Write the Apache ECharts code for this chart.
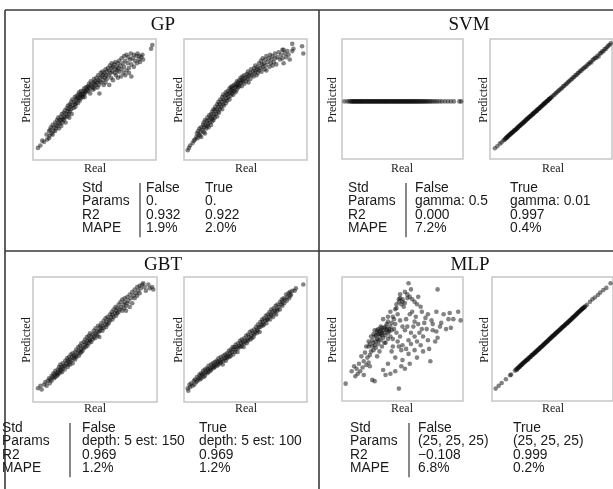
<!DOCTYPE html>
<html>
<head>
<meta charset="utf-8">
<script src="https://cdn.jsdelivr.net/npm/echarts@6/dist/echarts.min.js"></script>
<style>
  html, body { margin: 0; padding: 0; background: #fff; }
  #chart { width: 613px; height: 489px; }
</style>
</head>
<body>
<div id="chart"></div>
<script>
// Real vs. predicted values (both scaled to 0-100) for each model, without and with standardisation
const gpFalse = [[4,10],[6,12],[7.5,16],[9,15],[11,21],[11.5,17],[13,24],[13.5,20],[13,18],[14.5,27],[15,22],[14,25],[16,29],[16.5,24],[16,21],[17,27],[18,31],[18.5,26],[18,24],[19,29],[19.5,33],[20,28],[20.5,35],[21,31],[21,26],[21.5,33],[22,30],[22.5,36],[23,33],[23,28],[23.5,38],[24,34],[24,31],[25,39],[25,33],[25.5,36],[26,41],[26,35],[26.5,31],[27,38],[27.5,43],[28,36],[28,40],[28.5,45],[29,38],[29,42],[29.5,35],[30,46],[30,40],[30.5,44],[31,48],[31,42],[31.5,38],[32,45],[32,50],[33,43],[33.5,48],[34,52],[34,46],[34.5,44],[35,50],[35,47],[35.5,53],[36,51],[36.5,47],[37,54],[37,50],[37.5,56],[38,52],[38,49],[38.5,54],[39,51],[39,57],[39.5,53],[40,55],[40.5,52],[41,57],[41,54],[41.5,59],[42,55],[42,52],[42.5,57],[43,60],[43,56],[44,58],[44.5,61],[45,57],[45,60],[45.5,63],[46,59],[46.5,55],[47,62],[47,65],[48,61],[48.5,58],[49,64],[49,60],[49.5,67],[50,63],[50,59],[50.5,65],[51,62],[51.5,68],[52,64],[52.5,60],[53,66],[53,70],[53.5,62],[54,65],[54,55],[54.5,68],[55,72],[55.5,64],[56,69],[56.5,73],[57,66],[57,70],[57.5,62],[58,72],[58.5,68],[59,75],[59,64],[59.5,70],[60,73],[60,67],[61,76],[61.5,70],[62,74],[62,62],[62.5,78],[63,72],[63.5,68],[64,76],[64,80],[64.5,73],[65,66],[65,77],[66,79],[66.5,72],[67,75],[67,81],[67.5,70],[68,77],[68.5,74],[69,80],[69,68],[69.5,76],[70,82],[70,73],[71,78],[71.5,69],[72,84],[72,75],[73,80],[73.5,72],[74,86],[74,77],[75,70],[75,82],[76,87],[76,74],[77,80],[77.5,85],[78,76],[78,72],[79,83],[79.5,88],[80,79],[80,69],[81,84],[82,87],[82,77],[83,82],[84,86],[84.5,80],[85,88],[86,83],[86.5,86],[87,81],[88,85],[89,87],[89.5,83],[96,92],[97,95]];
const gpTrue = [[3,8],[4,10],[5,12],[7,14],[8,16],[9,17],[10,19],[10.5,22],[11,18],[11.5,24],[12,21],[12.5,26],[13,20],[13.5,23],[14,27],[14,19],[15,25],[15.5,29],[16,23],[16,31],[16.5,27],[17,33],[17,22],[17.5,29],[18,26],[18.5,32],[19,28],[19,35],[19.5,30],[20,33],[20,27],[20.5,37],[21,31],[21.5,35],[22,38],[22,29],[22.5,34],[23,40],[23,32],[23.5,36],[24,42],[24,33],[24.5,38],[25,41],[25,35],[25.5,44],[26,38],[26.5,42],[27,46],[27,36],[27.5,40],[28,44],[28,48],[28.5,39],[29,46],[29,42],[29.5,50],[30,44],[30.5,48],[31,52],[31,42],[31.5,46],[32,50],[32,54],[32.5,45],[33,49],[33.5,53],[34,47],[34,56],[34.5,51],[35,54],[35,49],[35.5,57],[36,52],[36.5,55],[37,59],[37,50],[37.5,56],[38,60],[38,53],[38.5,58],[39,55],[39,61],[39.5,57],[40,59],[40,54],[40.5,62],[41,57],[41.5,60],[42,63],[42,56],[42.5,61],[43,65],[43,58],[43.5,62],[44,64],[44,60],[45,66],[45,61],[45.5,63],[46,68],[46.5,64],[47,66],[47,61],[47.5,69],[48,65],[48.5,67],[49,70],[49,63],[50,68],[50.5,65],[51,71],[51.5,67],[52,69],[52,73],[52.5,64],[53,70],[54,72],[54,67],[54.5,75],[55,70],[56,73],[56.5,69],[57,76],[57.5,72],[58,74],[58,78],[59,70],[59.5,75],[60,77],[60,72],[61,80],[61,74],[62,76],[62.5,82],[63,73],[63.5,79],[64,84],[64,77],[65,80],[65.5,75],[66,83],[66.5,78],[67,86],[67,74],[68,81],[69,84],[69.5,77],[70,87],[70.5,80],[71,83],[72,78],[72,86],[73,81],[74,88],[74,84],[75,79],[76,85],[77,89],[78,83],[79,87],[80,91],[80,84],[81,80],[82,88],[83,85],[84,90],[85,87],[86,83],[81,91],[88,96],[88,90],[89,92],[96,94],[97,88]];
const svmFalse = [[2,48],[4.5,48],[6,48],[7.2,48],[8,48],[8.7,48],[9.5,48],[10.1,48],[10.8,48],[11.5,48],[12.3,48],[13,48],[13.6,48],[14.4,48],[15.1,48],[15.9,48],[16.5,48],[17.2,48],[18,48],[18.8,48],[19.4,48],[20.3,48],[21,48],[21.6,48],[22.5,48],[23.1,48],[23.9,48],[24.6,48],[25.3,48],[26.1,48],[26.8,48],[27.4,48],[28.3,48],[29,48],[29.7,48],[30.5,48],[31.2,48],[31.8,48],[32.7,48],[33.4,48],[34.1,48],[34.9,48],[35.5,48],[36.3,48],[37,48],[37.8,48],[38.4,48],[39.2,48],[40,48],[40.7,48],[41.5,48],[42.1,48],[43,48],[43.6,48],[44.4,48],[45.2,48],[45.9,48],[46.6,48],[47.4,48],[48.1,48],[48.9,48],[49.5,48],[50.4,48],[51.1,48],[51.8,48],[52.6,48],[53.3,48],[54,48],[54.8,48],[55.5,48],[56.2,48],[57,48],[57.7,48],[58.5,48],[59.2,48],[60,48],[60.8,48],[61.5,48],[62.4,48],[63.1,48],[64,48],[64.9,48],[65.7,48],[66.6,48],[67.5,48],[68.5,48],[69.4,48],[70.5,48],[71.6,48],[72.8,48],[74,48],[75.5,48],[77,48],[78.6,48],[80.5,48],[82.5,48],[85,48],[87.5,48],[90,48],[92.5,48],[97,48],[98.5,48]];
const svmTrue = [[4,9],[6,10.6],[8,12.8],[9.5,13.7],[11,15.6],[12,16],[12.6,16.9],[13,17.5],[13.7,17.6],[14,18.5],[14.6,18.6],[15,19.3],[15.5,19.5],[16,20.3],[16.6,20.4],[17,21.2],[17.5,21.2],[18,22.1],[18.5,22.2],[19,22.5],[19.5,23.3],[20,23.9],[20.5,23.9],[21,24.2],[21.5,25.2],[22,25.3],[22.5,26.2],[23,26.1],[23.5,27.1],[24,27.5],[24.5,27.6],[25,28.5],[25.5,28.5],[26,29.3],[26.5,29.6],[27,29.8],[27.5,30.7],[28,31.1],[28.5,31.2],[29,32.2],[29.5,32.1],[30,33],[30.5,33.5],[31,33.5],[31.5,34.4],[32,34.9],[32.5,34.8],[33,35.8],[33.5,36.1],[34,36.2],[34.5,37],[35,37.6],[35.5,37.6],[36,38.5],[36.5,38.9],[37,39],[37.5,39.8],[38,40.3],[38.5,40.3],[39,41.2],[39.5,41.6],[40,41.7],[40.5,42.5],[41,43.1],[41.5,43],[42,44],[42.5,44.4],[43,44.5],[43.5,45.3],[44,45.9],[44.5,45.8],[45,46.8],[45.5,47.1],[46,47.2],[46.5,48.1],[47,48.6],[47.5,48.5],[48,49.5],[48.5,49.9],[49,50],[49.5,50.8],[50,51.3],[51,51.9],[52,53.1],[53,53.8],[54,55],[55,55.6],[56,56.9],[57,57.4],[58,58.6],[59,59.2],[60,60.5],[61,61],[62,62.3],[63,62.8],[64,64.2],[65,64.7],[66,66],[67,66.5],[68,67.9],[69,68.3],[70,69.7],[71,70.1],[72,71.6],[73,72],[74,73.4],[75,73.7],[76,75.2],[77,75.6],[78,76.9],[79,77.1],[80,78.8],[81,79.2],[82,80.6],[83,80.4],[84,82.5],[85,83],[86,84.3],[87,84.2],[88,86.1],[89,85.4],[90,87.9],[91,88.2],[92,89.7],[93,89.8],[94,91.6],[95,91.9],[96,93.3],[97,94.3],[98,95.2],[99,96.4]];
const gbtFalse = [[4,11],[6,13],[7,10],[9,14],[10,16],[11,13],[12,17],[13,19],[13.5,15],[14,18],[15,21],[15,17],[16,20],[16.5,23],[17,19],[17.5,22],[18,25],[18,20],[19,23],[19.5,21],[20,26],[20,22],[20.5,24],[21,28],[21.5,23],[22,26],[22,30],[22.5,25],[23,28],[23.5,24],[24,31],[24,27],[25,29],[25.5,26],[26,33],[26,29],[27,31],[27.5,35],[28,28],[28,33],[28.5,30],[29,36],[29,32],[30,34],[30,30],[30.5,38],[31,33],[31.5,36],[32,31],[32,39],[33,35],[33,37],[34,40],[34,34],[34.5,37],[35,42],[35,36],[36,39],[36.5,44],[37,37],[37,41],[38,45],[38,39],[38.5,42],[39,47],[39,40],[40,44],[40,41],[41,48],[41,43],[42,46],[42,50],[42.5,44],[43,47],[43.5,52],[44,45],[44,49],[45,53],[45,47],[45.5,50],[46,55],[46,49],[47,52],[47,48],[48,54],[48,50],[49,57],[49,52],[50,55],[50,51],[50.5,59],[51,54],[52,57],[52,53],[52.5,61],[53,56],[53.5,52],[54,60],[54,57],[55,59],[55,63],[56,57],[56,61],[57,65],[57,59],[58,62],[58.5,67],[59,60],[59,64],[60,68],[60,62],[61,66],[61,63],[62,70],[62,65],[63,68],[63.5,72],[64,66],[64,70],[65,74],[65,68],[66,71],[66.5,76],[67,69],[67,73],[68,75],[68,71],[69,78],[69,72],[70,74],[70.5,80],[71,76],[72,82],[72,73],[73,78],[73.5,75],[74,83],[74,80],[75,73],[75,77],[76,84],[76,79],[77,81],[78,86],[78,76],[79,83],[80,88],[80,79],[81,85],[82,90],[82,83],[83,87],[84,92],[84,85],[85,89],[86,93],[86,87],[87,91],[88,94],[89,95],[90,92],[91,89],[93,94],[94,91],[96,92],[97,90]];
const gbtTrue = [[3,11],[3.5,9],[4.5,14],[5,12],[6,15],[7,13],[8,17],[8.5,14],[9,18],[10,16],[10.5,20],[11,17],[12,19],[12.5,22],[13,18],[13.5,21],[14,23],[14,19],[15,22],[15.5,25],[16,20],[16.5,23],[17,26],[17,21],[18,24],[18.5,27],[19,23],[19.5,26],[20,29],[20,24],[21,27],[21.5,25],[22,30],[22,26],[23,28],[23.5,31],[24,27],[24.5,29],[25,32],[25,28],[26,30],[26.5,33],[27,29],[27.5,32],[28,35],[28,30],[29,33],[29.5,31],[30,36],[30,32],[31,34],[31.5,30],[32,37],[32,33],[33,35],[33.5,38],[34,33],[34.5,36],[35,39],[35,35],[36,37],[36.5,41],[37,36],[37.5,39],[38,42],[38,37],[39,40],[39.5,44],[40,38],[40,42],[41,44],[41.5,40],[42,46],[42,42],[43,44],[43.5,40],[44,47],[44,43],[45,45],[45.5,49],[46,44],[46.5,47],[47,50],[47,45],[48,48],[48.5,44],[49,51],[49,47],[50,49],[50.5,53],[51,47],[51.5,50],[52,54],[52,49],[53,52],[53.5,56],[54,50],[54.5,53],[55,57],[55,51],[56,55],[56.5,52],[57,58],[57,54],[58,56],[58.5,60],[59,55],[59.5,58],[60,62],[60,57],[61,60],[61.5,56],[62,64],[62,60],[63,62],[63.5,66],[64,61],[64,64],[65,67],[65,62],[66,65],[66.5,69],[67,63],[67.5,66],[68,70],[68,66],[69,68],[69.5,72],[70,66],[70.5,70],[71,74],[71,69],[72,72],[72.5,68],[73,75],[73.5,71],[74,73],[74.5,77],[75,70],[75.5,74],[76,78],[76,73],[77,76],[78,80],[78,74],[79,78],[79.5,82],[80,77],[80,80],[81,83],[81.5,79],[82,82],[83,86],[83.5,81],[84,84],[85,87],[85.5,83],[86,88],[86.5,85],[87,86],[88,89],[90,89],[91,91],[97,94]];
const mlpFalse = [[3,14],[8,24],[11,20],[10,28],[12,26],[14,30],[15,24],[16,36],[18,32],[19,39],[21,35],[22,44],[23,37],[25,17],[27,16],[25,49],[26,41],[27,52],[29,57],[30,49],[32,60],[33,53],[34,66],[36,47],[37,57],[38,68],[40,52],[36,21],[40,22],[44,24],[41,63],[42,44],[44,74],[45,55],[47,82],[47,10],[48,65],[49,41],[49,28],[52,26],[51,76],[52,57],[54,83],[55,95],[55,49],[56,70],[58,82],[59,60],[60,41],[62,78],[63,84],[64,55],[66,72],[67,40],[68,63],[71,49],[73,32],[74,65],[75,57],[77,48],[78,72],[79,90],[79,51],[81,60],[89,71],[90,59],[96,72],[98,65],[27,45],[28,48],[29,50],[30,46],[31,52],[32,49],[33,55],[34,51],[35,47],[28,43],[30,54],[32,57],[26,47],[25,44],[33,44],[36,53],[38,50],[39,58],[37,62],[35,59],[42,50],[43,58],[46,48],[48,52],[50,45],[53,42],[55,38],[57,46],[60,52],[62,48],[65,45],[67,52],[70,58],[72,42],[63,62],[61,68],[58,72],[53,66],[50,60],[46,70],[44,62],[42,68],[40,72],[45,78],[48,86],[52,88],[57,90],[50,80],[60,80],[65,76],[69,67],[75,62],[78,56],[82,63],[86,58],[88,66],[92,66],[84,70],[31,40],[24,40],[22,31],[20,29],[17,27],[13,22],[18,21],[23,28],[38,30],[34,25],[44,35],[50,33],[56,30],[41,40],[47,44],[29,36],[62,35],[66,58],[71,70],[60,64],[54,60],[57,55],[26,54],[27,57],[29,55],[30,58],[31,56],[33,59],[34,57],[36,60],[35,55],[37,58],[39,56],[40,60],[28,53],[32,54],[38,55],[41,57],[47,80],[48,83],[50,82],[52,79],[54,86],[56,84],[45,75],[49,78],[43,66],[38,64],[24,52],[22,48],[20,44],[23,46]];
const mlpTrue = [[3,10],[5.5,12.2],[8,14.5],[11.5,17.5],[15,20.8],[15.8,21.3],[19,24.5],[20,25.6],[20.5,25],[21,26.4],[21.6,26.5],[22,27],[22.4,27.8],[23,27.6],[23.5,28.5],[24,28.9],[24.5,29.4],[25,29.5],[25.4,30.4],[26,30.6],[26.5,31.4],[27,31.3],[27.5,32.2],[28,32.5],[28.5,32.8],[29,33.5],[29.4,33.3],[30,34.5],[30.5,34.2],[31,35.2],[31.5,35.5],[32,35.7],[32.5,36.6],[33,36.8],[33.5,37.3],[34,37.6],[34.5,38.3],[35,38.5],[35.5,38.8],[36,39.6],[36.5,39.9],[37,40.1],[37.5,40.9],[38,41.2],[38.5,41.5],[39,42.3],[39.5,42.4],[40,43.1],[40.5,43.6],[41,43.8],[41.5,44.6],[42,44.8],[42.5,45.1],[43,45.9],[43.5,46.1],[44,46.5],[44.5,47.3],[45,47.4],[45.5,48],[46,48.6],[46.5,48.7],[47,49.5],[47.5,49.8],[48,50.3],[48.5,50.8],[49,51.1],[49.5,51.9],[50,52.1],[50.5,52.4],[51,53.2],[51.5,53.3],[52,53.8],[52.5,54.5],[53,54.7],[53.5,55.2],[54,55.8],[54.5,56],[55,56.7],[55.5,57.1],[56,57.3],[56.5,58.2],[57,58.3],[57.5,58.8],[58,59.4],[58.5,59.6],[59,60.3],[59.5,60.5],[60,60.9],[60.5,61.7],[61,61.8],[61.5,62.3],[62,62.9],[62.5,63],[63,63.8],[63.5,64.1],[64,64.5],[64.5,65.2],[65,65.3],[65.5,65.9],[66,66.6],[66.5,66.7],[67,67.4],[67.5,67.9],[68,68.1],[68.5,68.8],[69,69.2],[69.5,69.5],[70,70.3],[70.5,70.5],[71,71.1],[71.5,71.6],[72,71.9],[72.5,72.6],[73,72.8],[73.5,73.4],[74,73.9],[74.5,74.1],[75,74.8],[75.5,74.9],[76,75.4],[76.5,76],[77,76.2],[78.5,77.6],[81,80],[83,82],[85,83.5],[87.5,85.5],[89.5,87.4],[92,89.5],[94.5,91.2],[98,95]];

// Summary table text
const rowLabels = ['Std', 'Params', 'R2', 'MAPE'];
const gpCols  = [['False', '0.', '0.932', '1.9%'], ['True', '0.', '0.922', '2.0%']];
const svmCols = [['False', 'gamma: 0.5', '0.000', '7.2%'], ['True', 'gamma: 0.01', '0.997', '0.4%']];
const gbtCols = [['False', 'depth: 5 est: 150', '0.969', '1.2%'], ['True', 'depth: 5 est: 100', '0.969', '1.2%']];
const mlpCols = [['False', '(25, 25, 25)', '\u22120.108', '6.8%'], ['True', '(25, 25, 25)', '0.999', '0.2%']];
const modelNames = ['GP', 'SVM', 'GBT', 'MLP'];

const SERIF = '"Liberation Serif", "Times New Roman", serif';
const SANS = '"Liberation Sans", Arial, Helvetica, sans-serif';

// Panel layout: title anchor, plot frames, label centres, table columns
const panels = [
  { name: modelNames[0], data: [gpFalse, gpTrue], cols: gpCols,
    title: [163, 25], grids: [[33, 39, 123, 121], [184, 39, 123, 121]],
    predX: [27, 179], predY: 100, realX: [95, 246], realY: 169,
    tx: [82, 140, 146, 205], ty: 188 },
  { name: modelNames[1], data: [svmFalse, svmTrue], cols: svmCols,
    title: [469, 25], grids: [[342, 39, 121, 120], [490, 39, 122, 120]],
    predX: [333, 484], predY: 100, realX: [402, 553], realY: 169,
    tx: [348, 406, 415, 510], ty: 188 },
  { name: modelNames[2], data: [gbtFalse, gbtTrue], cols: gbtCols,
    title: [163, 265], grids: [[33, 277, 124, 125], [184, 277, 123, 125]],
    predX: [27, 179], predY: 340, realX: [95, 246], realY: 409,
    tx: [2, 70, 82, 199], ty: 428 },
  { name: modelNames[3], data: [mlpFalse, mlpTrue], cols: mlpCols,
    title: [470, 265], grids: [[342, 277, 121, 124], [492, 277, 122, 124]],
    predX: [333, 485], predY: 340, realX: [402, 553], realY: 409,
    tx: [350, 409, 418, 513], ty: 428 }
];

function txt(x, y, text, font, align, fill, extra) {
  return Object.assign({
    type: 'text', x: x, y: y, silent: true, z: 10,
    style: { text: text, font: font, fill: fill || '#1a1a1a',
             align: align, verticalAlign: 'middle' }
  }, extra || {});
}

const grid = [], xAxis = [], yAxis = [], series = [], graphic = [];

// Outer frame and quadrant dividers
const lineStyle = { stroke: '#3a3a3a', lineWidth: 1.6 };
[[5, 10, 613, 10], [5, 10, 5, 489], [319, 10, 319, 489], [5, 251, 613, 251]].forEach(function (l) {
  graphic.push({ type: 'line', silent: true, z: 5,
    shape: { x1: l[0], y1: l[1], x2: l[2], y2: l[3] }, style: lineStyle });
});

const ROW_H = 13.4;
const TABLE_FONT = '13.8px ' + SANS;
panels.forEach(function (p) {
  graphic.push(txt(p.title[0], p.title[1], p.name, '19px ' + SERIF, 'center', '#111'));
  p.grids.forEach(function (g, k) {
    const idx = grid.length;
    grid.push({ left: g[0], top: g[1], width: g[2], height: g[3], show: true,
      borderColor: '#c6c6c6', borderWidth: 1.5, backgroundColor: 'transparent' });
    xAxis.push({ gridIndex: idx, type: 'value', min: 0, max: 100, show: false });
    yAxis.push({ gridIndex: idx, type: 'value', min: 0, max: 100, show: false });
    series.push({ type: 'scatter', xAxisIndex: idx, yAxisIndex: idx, data: p.data[k],
      symbol: 'circle', symbolSize: 4.6, silent: true,
      itemStyle: { color: 'rgba(12,12,12,0.64)' } });
    graphic.push(txt(p.predX[k], p.predY, 'Predicted', '12px ' + SERIF, 'center', '#1a1a1a',
      { rotation: Math.PI / 2 }));
    graphic.push(txt(p.realX[k], p.realY, 'Real', '12px ' + SERIF, 'center'));
  });
  // Summary table
  rowLabels.forEach(function (lab, r) {
    const y = p.ty + r * ROW_H;
    graphic.push(txt(p.tx[0], y, lab, TABLE_FONT, 'left'));
    graphic.push(txt(p.tx[2], y, p.cols[0][r], TABLE_FONT, 'left'));
    graphic.push(txt(p.tx[3], y, p.cols[1][r], TABLE_FONT, 'left'));
  });
  graphic.push({ type: 'line', silent: true, z: 10,
    shape: { x1: p.tx[1], y1: p.ty - 5, x2: p.tx[1], y2: p.ty + 3 * ROW_H + 9 },
    style: { stroke: '#555', lineWidth: 1.4 } });
});

const chart = echarts.init(document.getElementById('chart'), null, { renderer: 'canvas' });
chart.setOption({
  animation: false,
  backgroundColor: '#fff',
  grid: grid, xAxis: xAxis, yAxis: yAxis, series: series, graphic: graphic
});
</script>
</body>
</html>
